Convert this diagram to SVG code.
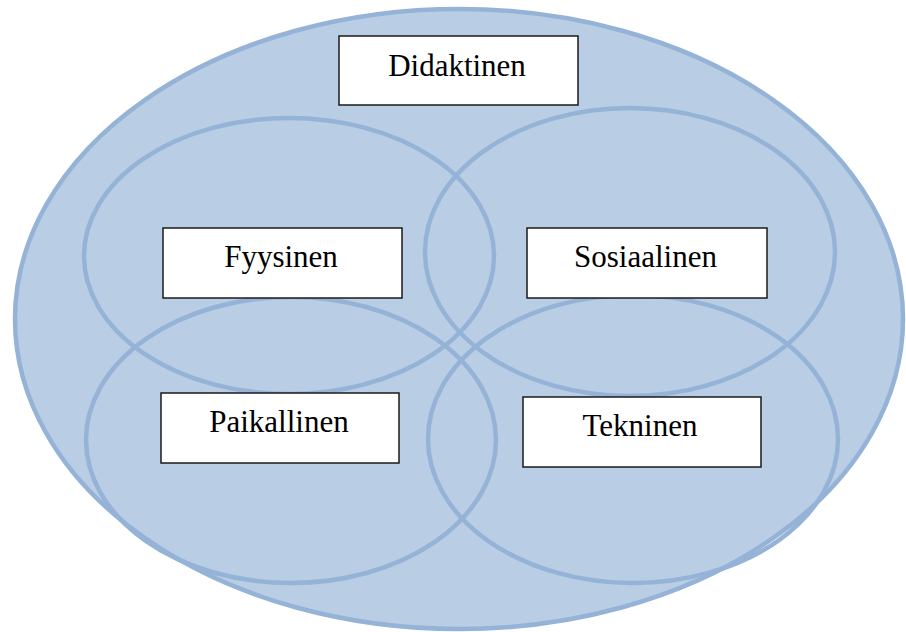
<svg xmlns="http://www.w3.org/2000/svg" width="906" height="632" viewBox="0 0 906 632">
<style>
.ring{fill:none;stroke:#95b3d7;stroke-width:4.5}
.box{fill:#ffffff;stroke:#1a1a1a;stroke-width:1.5}
text{font-family:'Liberation Serif','Times New Roman','DejaVu Serif',serif;font-size:31px;fill:#000;text-anchor:middle}
</style>
<rect width="906" height="632" fill="#ffffff"/>
<g id="outer">
<ellipse cx="459" cy="319" rx="444" ry="310" fill="#b9cde5" stroke="#95b3d7" stroke-width="4.5"/>
</g>
<g id="circles">
<ellipse class="ring" cx="289" cy="256" rx="205" ry="138"/>
<ellipse class="ring" cx="630" cy="252" rx="205" ry="144"/>
<ellipse class="ring" cx="291" cy="440" rx="205" ry="143"/>
<ellipse class="ring" cx="633" cy="439" rx="205" ry="144"/>
</g>
<g id="didaktinen">
<rect class="box" x="339" y="36" width="239" height="69"/>
<text x="457" y="76" font-family="Liberation Serif, serif">Didaktinen</text>
</g>
<g id="fyysinen">
<rect class="box" x="163" y="228" width="239" height="70"/>
<text x="281" y="267" font-family="Liberation Serif, serif">Fyysinen</text>
</g>
<g id="sosiaalinen">
<rect class="box" x="527" y="228" width="240" height="70"/>
<text x="645.5" y="267" font-family="Liberation Serif, serif">Sosiaalinen</text>
</g>
<g id="paikallinen">
<rect class="box" x="161" y="393" width="238" height="70"/>
<text x="279" y="432" font-family="Liberation Serif, serif">Paikallinen</text>
</g>
<g id="tekninen">
<rect class="box" x="523" y="397" width="238" height="70"/>
<text x="640" y="436" font-family="Liberation Serif, serif">Tekninen</text>
</g>
</svg>
